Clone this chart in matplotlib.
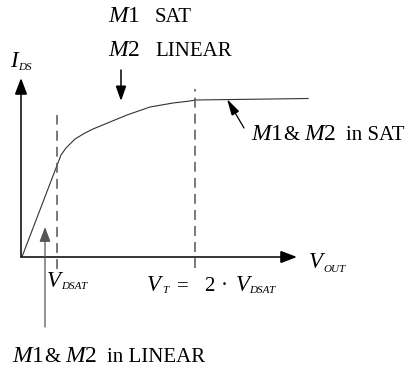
import matplotlib
matplotlib.use("Agg")
import matplotlib.pyplot as plt
from matplotlib.patches import FancyArrowPatch, ArrowStyle

plt.rcParams["font.family"] = ["Liberation Serif", "DejaVu Serif"]
plt.rcParams["mathtext.fontset"] = "custom"
plt.rcParams["mathtext.rm"] = "Liberation Serif"
plt.rcParams["mathtext.it"] = "Liberation Serif:italic"

# I_DS versus V_OUT for the stacked M1/M2 pair (arbitrary units)
v_out = [1.3, 40, 45, 54, 64, 72, 89, 106, 129, 152, 169, 174, 287]
i_ds = [1, 102, 109, 118, 124, 128, 135, 142, 150, 154, 156, 157, 158.5]

# Characteristic voltages marked on the V_OUT axis
v_dsat = 36
v_t = 174

W, H, DPI = 412, 370, 100
fig = plt.figure(figsize=(W / DPI, H / DPI), dpi=DPI)
ax = fig.add_axes([0, 0, 1, 1])
ax.set_xlim(-21, W - 21)
ax.set_ylim(257 - H, 257)
ax.axis("off")


def arrow(p0, p1, color="black", lw=1.1, hl=9.5, hw=3.6):
    style = ArrowStyle("-|>", head_length=hl, head_width=hw)
    ax.add_patch(FancyArrowPatch(p0, p1, arrowstyle=style, mutation_scale=1,
                                 lw=lw, color=color, shrinkA=0, shrinkB=0,
                                 joinstyle="miter"))


# axes with arrowheads
arrow((0, 0), (276, 0), hl=10, hw=3.8)
arrow((0, 0), (0, 179), hl=10, hw=3.8)

# characteristic curve
ax.plot(v_out, i_ds, color="#333333", lw=0.8, solid_joinstyle="round")

# dashed markers at V_DSAT and V_T
dash = (0, (6.5, 4.0))
ax.plot([v_dsat, v_dsat], [-12, 142], color="#555555", lw=1.1, ls=dash)
ax.plot([v_t, v_t], [-11, 168], color="#555555", lw=1.1, ls=dash)

# region pointers
arrow((100, 187), (100, 156), hl=9, hw=3.2)
arrow((24, -70), (24, 30), color="#555555", lw=0.9, hl=9, hw=3.4)
arrow((223, 129), (206, 158), lw=0.9, hl=10, hw=2.6)

FS = 15        # plain text
MS = 17        # device names (M1, M2)
SUB = 8        # subscripts
VS = 16.5      # voltage / current symbols


def txt(x, y, s, size=FS, **kw):
    ax.text(x, y, s, fontsize=size, ha="left", va="baseline", **kw)


def device_label(x, y, tail):
    txt(x, y, r"$M$1", MS)
    txt(x + 32, y, "&")
    txt(x + 53, y, r"$M$2", MS)
    txt(x + 95, y, tail)


# operating-region labels
txt(87, 235, r"$M$1", MS)
txt(134, 235, "SAT")
txt(87, 201, r"$M$2", MS)
txt(134, 201, "LINEAR")
device_label(230, 117, "in SAT")
device_label(-9, -105, "in LINEAR")

# axis titles
txt(-11, 190, "I", VS, style="italic")
txt(-3, 187, "DS", SUB, style="italic")
txt(288, -11, "V", VS, style="italic")
txt(302, -15, "OUT", SUB, style="italic")

# voltage labels below the axis
txt(26, -30, "V", VS, style="italic")
txt(40, -32, "DSAT", SUB, style="italic")
txt(126, -34, "V", VS, style="italic")
txt(141, -36, "T", SUB, style="italic")
txt(156, -34, "=")
txt(183, -34, "2")
txt(200, -34, "\u00b7")
txt(215, -34, "V", VS, style="italic")
txt(228, -36, "DSAT", SUB, style="italic")

fig.savefig("out.png", dpi=DPI, facecolor="white")
